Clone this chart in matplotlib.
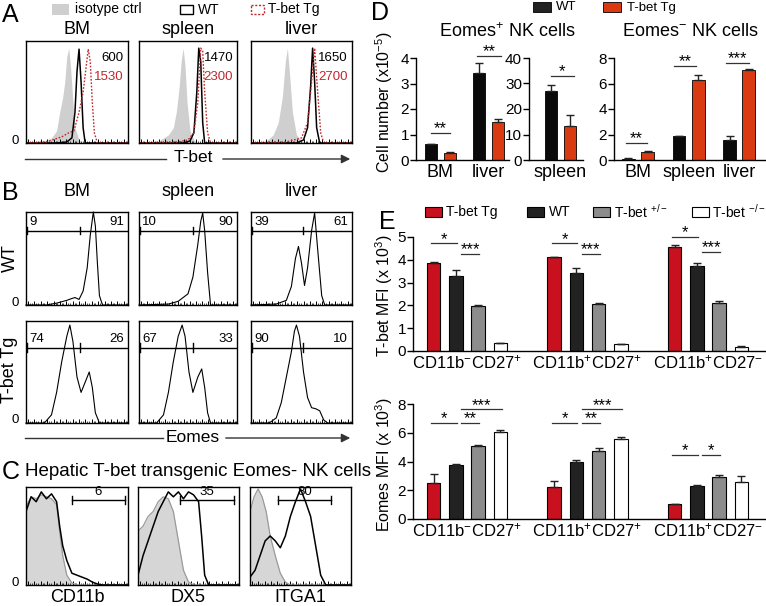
import matplotlib
matplotlib.use("Agg")
import matplotlib.pyplot as plt
from matplotlib.patches import Rectangle
import numpy as np

plt.rcParams['font.family'] = ['Liberation Sans', 'DejaVu Sans']
plt.rcParams['mathtext.fontset'] = 'custom'
plt.rcParams['mathtext.rm'] = 'Liberation Sans'
plt.rcParams['mathtext.it'] = 'Liberation Sans'
plt.rcParams['mathtext.bf'] = 'Liberation Sans'

W, H = 766, 606

# ---------------- DATA ----------------
tissues = ["BM", "spleen", "liver"]

# Panel A: T-bet histograms (x: relative position in log channel, y: normalized count)
A_iso_x = [[0, .15, .25, .3, .33, .36, .38, .40, .42, .44, .46, .48, .52, .56, 1],
           [0, .2, .3, .35, .38, .41, .43, .45, .47, .49, .52, .56, .6, 1],
           [0, .15, .22, .27, .31, .34, .36, .38, .41, .45, .5, .6, 1]]
A_iso_y = [[0, .01, .05, .12, .3, .45, .6, .85, .93, .7, .4, .15, .03, 0, 0],
           [0, .02, .08, .15, .3, .55, .8, .93, .75, .4, .12, .03, 0, 0],
           [0, .02, .08, .2, .45, .8, .93, .7, .3, .08, .02, 0, 0]]
A_wt_x = [[0, .3, .4, .45, .48, .5, .52, .54, .56, .58, 1],
          [0, .45, .52, .56, .59, .61, .63, .65, .67, 1],
          [0, .45, .52, .56, .59, .61, .63, .65, .68, 1]]
A_wt_y = [[0, 0, .01, .05, .3, .7, .92, .6, .15, 0, 0],
          [0, 0, .02, .1, .5, .93, .8, .2, 0, 0],
          [0, 0, .03, .15, .55, .93, .6, .15, 0, 0]]
A_tg_x = [[0, .2, .35, .42, .47, .52, .56, .59, .61, .63, .65, .67, .7, 1],
          [0, .4, .5, .56, .6, .63, .65, .67, .7, .73, 1],
          [0, .35, .5, .56, .6, .63, .66, .69, .72, 1]]
A_tg_y = [[0, .01, .06, .1, .12, .3, .5, .75, .92, .8, .4, .1, 0, 0],
          [0, .01, .03, .1, .4, .93, .9, .5, .1, 0, 0],
          [0, .01, .05, .2, .6, .93, .5, .1, 0, 0]]
A_mfi_wt = ["600", "1470", "1650"]
A_mfi_tg = ["1530", "2300", "2700"]

# Panel B: Eomes histograms
B_wt_x = [[0, .2, .3, .4, .45, .48, .52, .56, .6, .63, .66, .68, .7, .72, .75, 1],
          [0, .3, .4, .5, .55, .6, .63, .65, .67, .7, .73, 1],
          [0, .25, .35, .4, .44, .47, .5, .53, .56, .6, .63, .66, .7, .73, 1]]
B_wt_y = [[0, 0, .02, .05, .07, .08, .06, .15, .4, .75, 1.0, .85, .45, .1, 0, 0],
          [0, .01, .04, .12, .3, .65, .9, .99, .8, .35, 0, 0],
          [0, .01, .05, .2, .5, .63, .45, .21, .4, .8, .99, .6, .1, 0, 0]]
B_tg_x = [[0, .18, .25, .3, .35, .4, .43, .46, .5, .54, .58, .62, .65, .68, .72, 1],
          [0, .18, .25, .3, .35, .4, .44, .47, .51, .55, .6, .64, .67, .7, .73, 1],
          [0, .18, .25, .3, .35, .4, .43, .45, .48, .52, .56, .6, .64, .68, .72, .76, 1]]
B_tg_y = [[0, 0, .08, .3, .6, .85, .96, .8, .45, .3, .4, .5, .35, .1, 0, 0],
          [0, 0, .08, .3, .6, .85, .96, .85, .5, .3, .45, .53, .35, .1, 0, 0],
          [0, 0, .05, .2, .45, .7, .9, .96, .85, .5, .25, .15, .14, .12, .03, 0, 0]]
B_wt_pct = [("9", "91"), ("10", "90"), ("39", "61")]
B_tg_pct = [("74", "26"), ("67", "33"), ("90", "10")]
B_gate_mid = [.53, .55, .51]

# Panel C: hepatic T-bet Tg Eomes- NK cells
C_markers = ["CD11b", "DX5", "ITGA1"]
C_iso_x = [[0, .05, .1, .15, .2, .25, .3, .33, .36, .4, .45, .5, 1],
           [0, .05, .1, .15, .2, .25, .3, .35, .4, .45, .5, .55, 1],
           [0, .04, .08, .12, .16, .2, .25, .3, .35, .4, 1]]
C_iso_y = [[.8, .9, .88, .92, .9, .88, .82, .55, .3, .1, .02, 0, 0],
           [.55, .6, .7, .75, .85, .9, .88, .75, .45, .15, .03, 0, 0],
           [.75, .9, .98, .9, .75, .5, .3, .12, .03, 0, 0]]
C_tg_x = [[0, .05, .1, .15, .2, .25, .3, .33, .36, .4, .45, .5, .55, .6, .65, .7, .75, 1],
          [0, .05, .1, .15, .2, .25, .3, .35, .4, .45, .5, .55, .6, .63, .66, .7, 1],
          [0, .05, .1, .15, .2, .25, .3, .35, .4, .45, .5, .55, .6, .65, .7, .75, 1]]
C_tg_y = [[.75, .9, .85, .95, .88, .93, .85, .6, .4, .25, .12, .1, .08, .06, .03, .01, 0, 0],
          [.1, .3, .45, .6, .75, .85, .95, .9, .95, .88, .95, .92, .85, .5, .1, 0, 0],
          [.08, .15, .3, .45, .5, .45, .38, .5, .7, .85, .98, .85, .7, .4, .1, 0, 0]]
C_pct = ["6", "35", "80"]
C_gate = [(.45, .97), (.42, .95), (.28, .80)]

# Panel D: cell numbers (x10^-5)
D_pos_tissues = ["BM", "liver"]
D_pos_wt = [0.62, 3.42]
D_pos_wt_err = [0.02, 0.40]
D_pos_tg = [0.28, 1.50]
D_pos_tg_err = [0.03, 0.12]
D_spl_wt = [27.0]
D_spl_wt_err = [2.4]
D_spl_tg = [13.5]
D_spl_tg_err = [4.2]
D_neg_tissues = ["BM", "spleen", "liver"]
D_neg_wt = [0.10, 1.85, 1.60]
D_neg_wt_err = [0.02, 0.03, 0.25]
D_neg_tg = [0.65, 6.30, 7.05]
D_neg_tg_err = [0.05, 0.40, 0.07]
# significance: (group, from offset, to offset, y, label)
D_pos_sig = [(0, -0.2, 0.2, 1.06, "**"), (1, -0.24, 0.26, 4.08, "**")]
D_spl_sig = [(0, -0.2, 0.28, 32.9, "*")]
D_neg_sig = [(0, -0.24, 0.18, 1.33, "**"), (1, -0.29, 0.15, 7.37, "**"), (2, -0.26, 0.2, 7.6, "***")]

# Panel E: MFI
E_subsets = ["CD11b$^{-}$CD27$^{+}$", "CD11b$^{+}$CD27$^{+}$", "CD11b$^{+}$CD27$^{-}$"]
E_genotypes = ["T-bet Tg", "WT", "T-bet $^{+/-}$", "T-bet $^{-/-}$"]
E_tbet = [[3.85, 3.30, 1.97, 0.35], [4.12, 3.42, 2.08, 0.30], [4.58, 3.75, 2.12, 0.17]]
E_tbet_err = [[0.07, 0.25, 0.03, 0.01], [0.02, 0.20, 0.03, 0.01], [0.05, 0.12, 0.08, 0.03]]
E_eomes = [[2.50, 3.75, 5.08, 6.05], [2.25, 3.95, 4.72, 5.58], [1.05, 2.33, 2.90, 2.60]]
E_eomes_err = [[0.60, 0.08, 0.05, 0.15], [0.40, 0.15, 0.20, 0.10], [0.00, 0.03, 0.15, 0.40]]
# significance: (group, bar_from, bar_to, y, label)
E_tbet_sig = [(0, 0, 1, 4.72, "*"), (0, 1, 2, 4.25, "***"),
              (1, 0, 1, 4.72, "*"), (1, 1, 2, 4.25, "***"),
              (2, 0, 1, 5.0, "*"), (2, 1, 2, 4.35, "***")]
E_eomes_sig = [(0, 0, 1, 6.67, "*"), (0, 1, 2, 6.67, "**"), (0, 1, 3, 7.64, "***"),
               (1, 0, 1, 6.67, "*"), (1, 1, 2, 6.67, "**"), (1, 1, 3, 7.64, "***"),
               (2, 0, 1, 4.45, "*"), (2, 1, 2, 4.45, "*")]

# ---------------- FIGURE ----------------
fig = plt.figure(figsize=(W / 100, H / 100), dpi=100)


def px_axes(x0, y0, x1, y1):
    return fig.add_axes([x0 / W, 1 - y1 / H, (x1 - x0) / W, (y1 - y0) / H])


# overlay for free text
ov = fig.add_axes([0, 0, 1, 1], zorder=10)
ov.set_xlim(0, W)
ov.set_ylim(H, 0)
ov.axis('off')
ov.patch.set_alpha(0)

hist_cols = [(26, 128), (139, 237), (251, 352)]
RED_A = '#c0282d'
GRAY_FILL = '#cfcfcf'


def flow_axes(x0, y0, x1, y1):
    ax = px_axes(x0, y0, x1, y1)
    ax.set_xlim(0, 1)
    ax.set_ylim(0, 1)
    ax.set_yticks([])
    ax.set_xticks([0.02 + 0.0625 * i for i in range(16)])
    ax.set_xticks([0.02 + 0.0625 * i + d for i in range(16) for d in (0.02, 0.035)], minor=True)
    ax.tick_params(axis='x', which='major', direction='in', length=3, width=0.7, labelbottom=False)
    ax.tick_params(axis='x', which='minor', direction='in', length=1.5, width=0.5)
    for s in ax.spines.values():
        s.set_linewidth(1.0)
    return ax


# ---- Panel A ----
for i, t in enumerate(tissues):
    x0, x1 = hist_cols[i]
    ax = flow_axes(x0, 41, x1, 143)
    ax.fill_between(A_iso_x[i], A_iso_y[i], color=GRAY_FILL, lw=0)
    ax.plot(A_wt_x[i], A_wt_y[i], color='black', lw=1.1)
    ax.plot(A_tg_x[i], A_tg_y[i], color=RED_A, lw=1.0, ls=(0, (1.2, 1.2)))
    ax.text(0.96, 0.83, A_mfi_wt[i], transform=ax.transAxes, ha='right', va='center', fontsize=9.5)
    ax.text(0.96, 0.65, A_mfi_tg[i], transform=ax.transAxes, ha='right', va='center', fontsize=9.5,
            color=RED_A)
    ov.text((x0 + x1) / 2, 29, t, ha='center', va='center', fontsize=13)
ov.text(15, 141, "0", ha='center', va='center', fontsize=9.5)
# legend A
ov.add_patch(Rectangle((52, 4), 17, 11, color=GRAY_FILL, lw=0))
ov.text(75, 9.5, "isotype ctrl", va='center', fontsize=10)
ov.add_patch(Rectangle((180, 4.5), 13, 9, fc='white', ec='black', lw=1))
ov.text(198, 9.5, "WT", va='center', fontsize=10)
ov.add_patch(Rectangle((251, 4.5), 13, 9, fc='white', ec=RED_A, lw=1, ls=(0, (1.5, 1.2))))
ov.text(268, 9.5, "T-bet Tg", va='center', fontsize=10)
# T-bet arrow
ov.plot([25, 166], [159, 159], color='#333', lw=1)
ov.text(193, 158, "T-bet", ha='center', va='center', fontsize=12.5)
ov.annotate("", xy=(353, 159), xytext=(220, 159),
            arrowprops=dict(arrowstyle='-|>', color='#333', lw=1, mutation_scale=13))

# ---- Panel B ----
for i, t in enumerate(tissues):
    x0, x1 = hist_cols[i]
    ov.text((x0 + x1) / 2, 192, t, ha='center', va='center', fontsize=13)
    for (yt, yb, xs, ys, pct, gy) in [(212, 305, B_wt_x, B_wt_y, B_wt_pct, 0.80),
                                      (321, 423, B_tg_x, B_tg_y, B_tg_pct, 0.74)]:
        ax = flow_axes(x0, yt, x1, yb)
        ax.plot(xs[i], ys[i], color='black', lw=0.8, clip_on=False)
        ax.plot([0, 1], [gy, gy], color='black', lw=1.0)
        ax.plot([0.01, 0.01], [gy - 0.04, gy + 0.04], color='black', lw=1.0)
        ax.plot([B_gate_mid[i]] * 2, [gy - 0.04, gy + 0.04], color='black', lw=1.0)
        ax.text(0.03, gy + 0.025, pct[i][0], transform=ax.transAxes, va='bottom', ha='left', fontsize=9.5)
        ax.text(0.96, gy + 0.025, pct[i][1], transform=ax.transAxes, va='bottom', ha='right', fontsize=9.5)
ov.text(15, 303, "0", ha='center', va='center', fontsize=9.5)
ov.text(15, 420, "0", ha='center', va='center', fontsize=9.5)
ov.text(10, 258, "WT", rotation=90, ha='center', va='center', fontsize=13)
ov.text(10, 370, "T-bet Tg", rotation=90, ha='center', va='center', fontsize=13)
ov.plot([25, 163], [438, 438], color='#333', lw=1)
ov.text(193, 437, "Eomes", ha='center', va='center', fontsize=12.5)
ov.annotate("", xy=(353, 438), xytext=(223, 438),
            arrowprops=dict(arrowstyle='-|>', color='#333', lw=1, mutation_scale=13))

# ---- Panel C ----
ov.text(25, 472, "Hepatic T-bet transgenic Eomes- NK cells", va='center', ha='left', fontsize=13.5)
c_cols = [(26, 128), (138, 239), (250, 351)]
for i, m in enumerate(C_markers):
    x0, x1 = c_cols[i]
    ax = flow_axes(x0, 487, x1, 585)
    ax.fill_between(C_iso_x[i], C_iso_y[i], color='#d6d6d6', lw=0)
    ax.plot(C_iso_x[i], C_iso_y[i], color='#9a9a9a', lw=0.9)
    ax.plot(C_tg_x[i], C_tg_y[i], color='black', lw=1.1)
    g0, g1 = C_gate[i]
    ax.plot([g0, g1], [0.87, 0.87], color='black', lw=1.0)
    ax.plot([g0, g0], [0.83, 0.91], color='black', lw=1.0)
    ax.plot([g1, g1], [0.83, 0.91], color='black', lw=1.0)
    ax.text((g0 + g1) / 2, 0.885, C_pct[i], ha='center', va='bottom', fontsize=9.5)
    ov.text((x0 + x1) / 2, 597, m, ha='center', va='center', fontsize=13)
ov.text(15, 583, "0", ha='center', va='center', fontsize=9.5)

# ---- Panel D ----
RED_D = '#d93a12'
BLK_D = '#0a0a0a'


def bar_axes(x0, y0, x1, y1, ymax, ticks):
    ax = px_axes(x0, y0, x1, y1)
    ax.set_ylim(0, ymax)
    ax.set_yticks(ticks)
    ax.spines['top'].set_visible(False)
    ax.spines['right'].set_visible(False)
    ax.spines['left'].set_linewidth(1.0)
    ax.spines['bottom'].set_linewidth(1.0)
    ax.tick_params(axis='y', length=4, width=1, labelsize=11, pad=1)
    ax.tick_params(axis='x', length=0, labelsize=13, pad=3)
    ax.patch.set_alpha(0)
    return ax


def sig(ax, xa, xb, y, label, fs=12):
    ax.plot([xa, xb], [y, y], color='#333', lw=0.9, clip_on=False)
    ax.annotate(label, xy=((xa + xb) / 2, y), xytext=(0, -2.5), textcoords='offset points',
                ha='center', va='bottom', fontsize=fs, annotation_clip=False)


ekw = dict(elinewidth=1, capsize=3, capthick=1, ecolor='#222')
w = 0.26
ax1 = bar_axes(416, 58, 509, 160, 4, [0, 1, 2, 3, 4])
xp = np.arange(len(D_pos_tissues))
ax1.bar(xp - 0.2, D_pos_wt, w, color=BLK_D, ec='black', lw=0.6,
        yerr=[np.zeros(2), D_pos_wt_err], error_kw=ekw)
ax1.bar(xp + 0.2, D_pos_tg, w, color=RED_D, ec='black', lw=0.6,
        yerr=[np.zeros(2), D_pos_tg_err], error_kw=ekw)
ax1.set_xlim(-0.51, 1.43)
ax1.set_xticks(xp)
ax1.set_xticklabels(D_pos_tissues)
for g, a, b, y, lab in D_pos_sig:
    sig(ax1, xp[g] + a, xp[g] + b, y, lab)

ax2 = bar_axes(529, 58, 583, 160, 40, [0, 10, 20, 30, 40])
ax2.bar([-0.2], D_spl_wt, w, color=BLK_D, ec='black', lw=0.6,
        yerr=[[0], D_spl_wt_err], error_kw=ekw)
ax2.bar([0.2], D_spl_tg, w, color=RED_D, ec='black', lw=0.6,
        yerr=[[0], D_spl_tg_err], error_kw=ekw)
ax2.set_xlim(-0.656, 0.47)
ax2.set_xticks([0])
ax2.set_xticklabels(["spleen"])
for g, a, b, y, lab in D_spl_sig:
    sig(ax2, g + a, g + b, y, lab)

ax3 = bar_axes(614, 58, 766, 160, 8, [0, 2, 4, 6, 8])
xn = np.arange(len(D_neg_tissues))
ax3.bar(xn - 0.19, D_neg_wt, 0.25, color=BLK_D, ec='black', lw=0.6,
        yerr=[np.zeros(3), D_neg_wt_err], error_kw=ekw)
ax3.bar(xn + 0.19, D_neg_tg, 0.25, color=RED_D, ec='black', lw=0.6,
        yerr=[np.zeros(3), D_neg_tg_err], error_kw=ekw)
ax3.set_xlim(-0.475, 2.53)
ax3.set_xticks(xn)
ax3.set_xticklabels(D_neg_tissues)
for g, a, b, y, lab in D_neg_sig:
    sig(ax3, xn[g] + a, xn[g] + b, y, lab)

ov.text(507, 32, "Eomes$^{+}$ NK cells", ha='center', va='center', fontsize=13)
ov.text(690, 32, "Eomes$^{-}$ NK cells", ha='center', va='center', fontsize=13)
ov.text(384, 102, "Cell number (x10$^{-5}$)", rotation=90, ha='center', va='center', fontsize=11.5)
ov.add_patch(Rectangle((533, 2), 18, 10, fc='#222', ec='black', lw=0.6))
ov.text(556, 7.5, "WT", va='center', fontsize=9.5)
ov.add_patch(Rectangle((603, 2), 18, 10, fc=RED_D, ec='black', lw=0.6))
ov.text(627, 7.5, "T-bet Tg", va='center', fontsize=9.5)

# ---- Panel E ----
E_colors = ['#c8101e', '#222222', '#8c8c8c', '#ffffff']
gbase = np.arange(len(E_subsets)) * 5.4
ekwE = dict(elinewidth=1, capsize=3, capthick=1, ecolor='#222')


def e_axes(y0, y1, ymax, ticks, vals, errs, sigs):
    ax = bar_axes(413, y0, 766, y1, ymax, ticks)
    vals = np.array(vals)
    errs = np.array(errs)
    for j in range(len(E_genotypes)):
        ax.bar(gbase + j, vals[:, j], 0.6, color=E_colors[j], ec='black', lw=0.8,
               yerr=[np.zeros(len(gbase)), errs[:, j]], error_kw=ekwE)
    ax.set_xlim(-0.92, 14.9)
    ax.set_xticks(gbase + 1.5)
    ax.set_xticklabels(E_subsets)
    ax.tick_params(axis='x', labelsize=12, pad=2)
    for g, a, b, y, lab in sigs:
        sig(ax, gbase[g] + a - 0.1 + (0.35 if a > 0 else 0), gbase[g] + b + 0.05, y, lab)
    return ax


e_axes(237, 351, 5, [0, 1, 2, 3, 4, 5], E_tbet, E_tbet_err, E_tbet_sig)
e_axes(404, 519, 8, [0, 2, 4, 6, 8], E_eomes, E_eomes_err, E_eomes_sig)
ov.text(384, 296, "T-bet MFI (x 10$^{3}$)", rotation=90, ha='center', va='center', fontsize=11.5)
ov.text(384, 464, "Eomes MFI (x 10$^{3}$)", rotation=90, ha='center', va='center', fontsize=11.5)

leg_x = [(425, 446), (527, 549), (593, 614), (692, 712)]
for j, lab in enumerate(E_genotypes):
    px, tx = leg_x[j]
    ov.add_patch(Rectangle((px, 207), 17, 10, fc=E_colors[j], ec='black', lw=0.8))
    ov.text(tx, 212, lab, va='center', fontsize=10)

# panel letters
for lab, x, y in [("A", 2, 15), ("B", 2, 193), ("C", 2, 472), ("D", 371, 13), ("E", 379, 222)]:
    ov.text(x, y, lab, ha='left', va='center', fontsize=18)

fig.savefig("out.png", dpi=100)
